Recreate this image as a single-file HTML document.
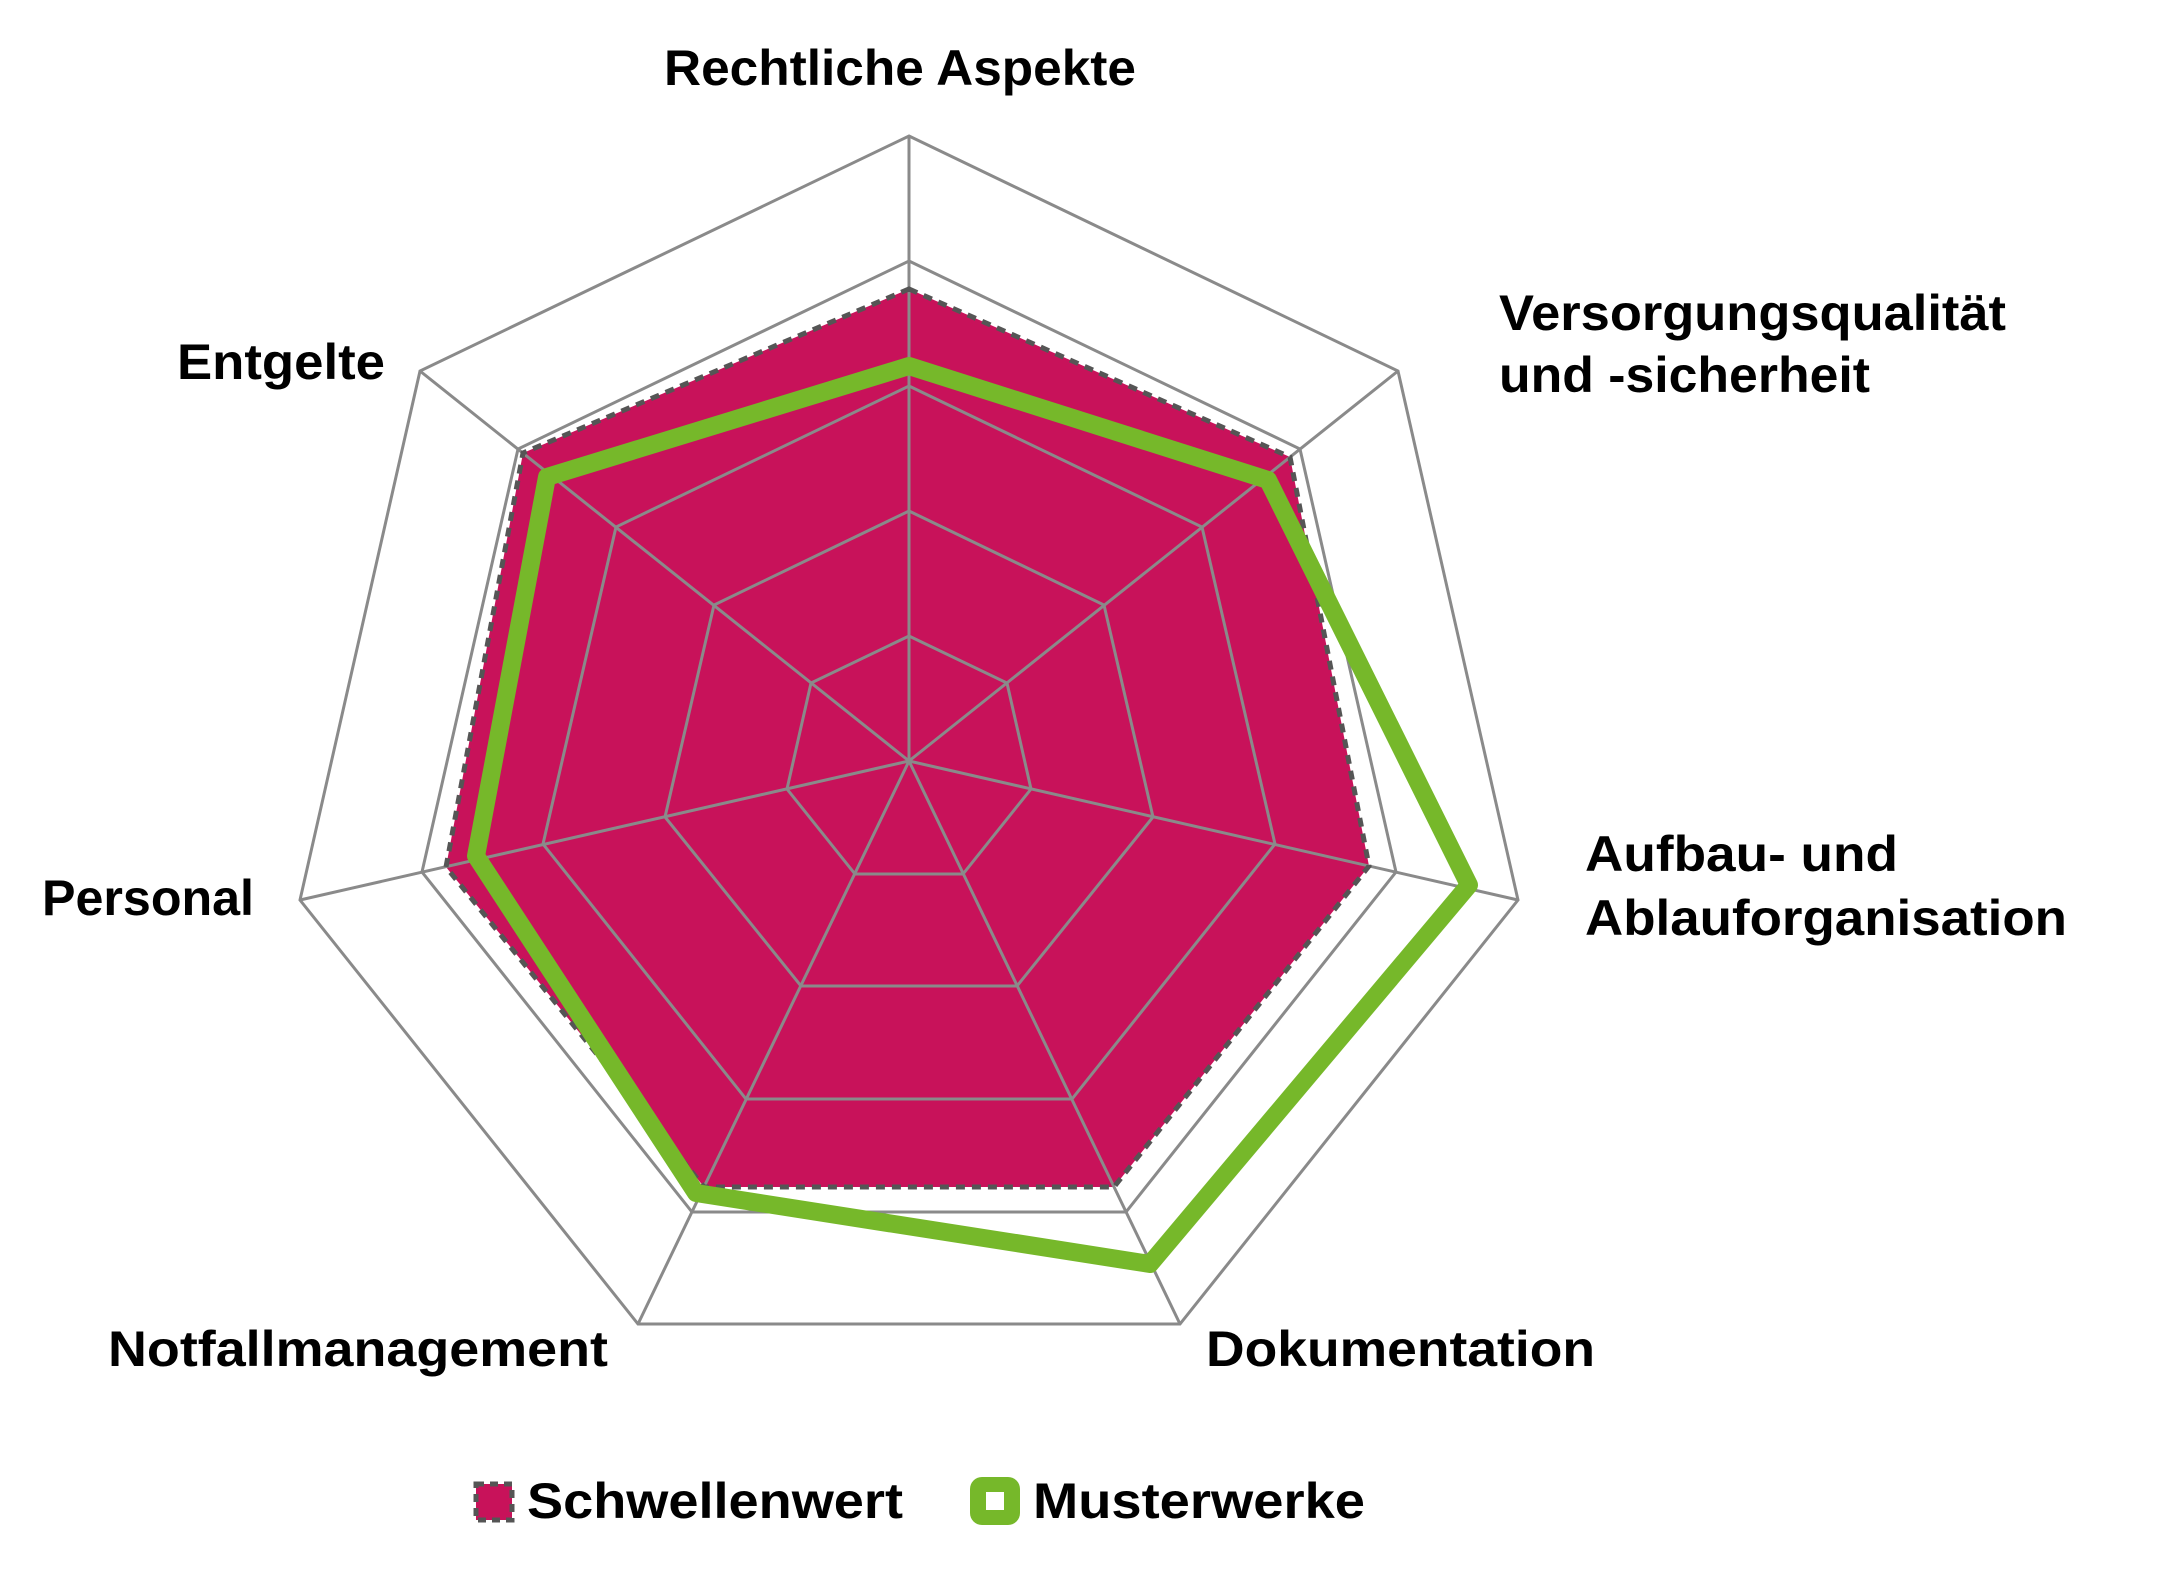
<!DOCTYPE html>
<html><head><meta charset="utf-8"><style>html,body{margin:0;padding:0;background:#fff}svg{display:block}</style></head>
<body>
<svg width="2167" height="1577" viewBox="0 0 2167 1577" xmlns="http://www.w3.org/2000/svg">
<rect width="2167" height="1577" fill="#fff"/>
<g transform="translate(-3,-3)">
<polygon points="912,292 1293,460 1372,869 1117,1190 707,1190 449,870 526,456" fill="#c8125a"/>
<g fill="none" stroke="#8a8a8a" stroke-width="3" stroke-linejoin="miter">
<polygon points="912,139 1401,374 1521,903 1183,1327 641,1327 303,903 423,374"/>
<polygon points="912,264 1303,452 1399,875 1129,1215 695,1215 425,875 521,452"/>
<polygon points="912,389 1205,530 1278,847 1075,1102 749,1102 546,847 619,530"/>
<polygon points="912,514 1107,608 1156,820 1020,989 804,989 668,820 717,608"/>
<polygon points="912,639 1010,686 1034,792 966,877 858,877 790,792 814,686"/>
<path d="M912,764L912,139M912,764L1401,374M912,764L1521,903M912,764L1183,1327M912,764L641,1327M912,764L303,903M912,764L423,374"/>
</g>
<polygon points="912,292 1293,460 1372,869 1117,1190 707,1190 449,870 526,456" fill="none" stroke="#555" stroke-width="5" stroke-dasharray="9 7"/>
<polygon points="912,369 1271,483 1472,888 1153,1267 699,1196 479,859 550,480" fill="none" stroke="#76b82a" stroke-width="18" stroke-linejoin="round"/>
</g>
<g font-family="Liberation Sans, sans-serif" font-weight="bold" font-size="50" fill="#000">
<text x="664" y="85" textLength="472" lengthAdjust="spacingAndGlyphs">Rechtliche Aspekte</text>
<text x="1499" y="330" textLength="507" lengthAdjust="spacingAndGlyphs">Versorgungsqualität</text>
<text x="1499" y="392" textLength="371" lengthAdjust="spacingAndGlyphs">und -sicherheit</text>
<text x="177" y="379" textLength="208" lengthAdjust="spacingAndGlyphs">Entgelte</text>
<text x="1585" y="871" textLength="313" lengthAdjust="spacingAndGlyphs">Aufbau- und</text>
<text x="1585" y="935" textLength="482" lengthAdjust="spacingAndGlyphs">Ablauforganisation</text>
<text x="42" y="915" textLength="212" lengthAdjust="spacingAndGlyphs">Personal</text>
<text x="108" y="1366" textLength="500" lengthAdjust="spacingAndGlyphs">Notfallmanagement</text>
<text x="1206" y="1366" textLength="389" lengthAdjust="spacingAndGlyphs">Dokumentation</text>
<text x="527" y="1518" textLength="376" lengthAdjust="spacingAndGlyphs">Schwellenwert</text>
<text x="1033" y="1518" textLength="332" lengthAdjust="spacingAndGlyphs">Musterwerke</text>
</g>
<rect x="476" y="1484" width="36" height="36" fill="#c8125a" stroke="#555" stroke-width="5" stroke-dasharray="8 6"/>
<rect x="970" y="1477" width="50" height="48" rx="12" fill="#76b82a"/>
<rect x="986" y="1492" width="18" height="18" fill="#fff"/>
</svg>
</body></html>
